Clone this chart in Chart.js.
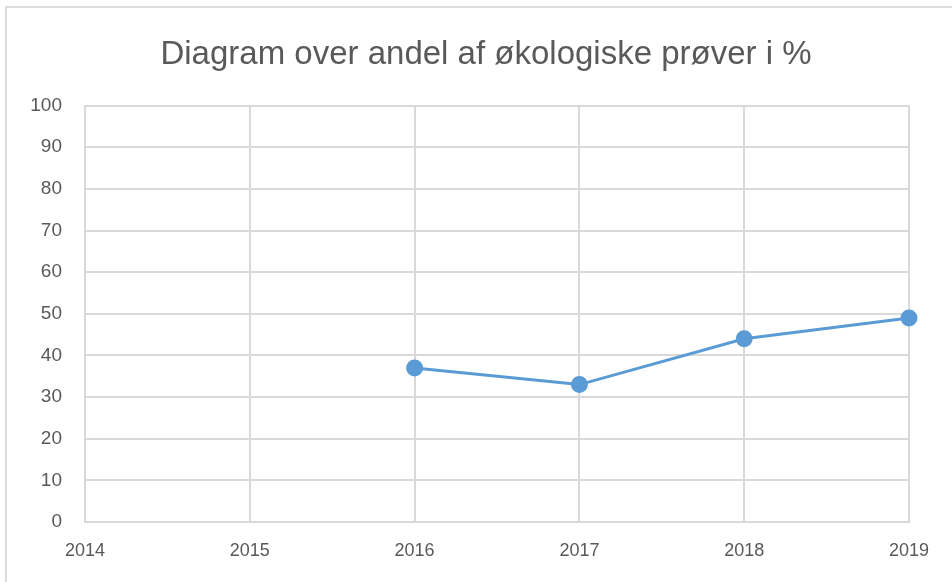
<!DOCTYPE html>
<html lang="da">
<head>
    <meta charset="UTF-8">
    <title>Diagram over andel af økologiske prøver i %</title>
    <script src="https://cdn.jsdelivr.net/npm/chart.js"></script>
    <style>
        body { margin: 0; background: #fff; font-family: 'Liberation Sans', sans-serif; }
        .wrap { position: relative; width: 952px; height: 582px; }
        .frame { position: absolute; left: 5px; top: 6px; right: -10px; bottom: -10px; border-left: 2px solid #dcdcdc; border-top: 2px solid #dcdcdc; }
        canvas { position: absolute; left: 0; top: 0; }
    </style>
</head>
<body>
    <div class="wrap">
        <div class="frame"></div>
        <canvas id="chart" width="952" height="582"></canvas>
    </div>

    <script>
        const years = ['2014', '2015', '2016', '2017', '2018', '2019'];
        const andel = [null, null, 37, 33, 44, 49];
        const yTicks = [0, 10, 20, 30, 40, 50, 60, 70, 80, 90, 100];

        const grey = '#595959';
        const gridColor = '#d9d9d9';

        new Chart(document.getElementById('chart'), {
            type: 'line',
            data: {
                labels: years,
                datasets: [{
                    label: 'Andel økologiske prøver',
                    data: andel,
                    borderColor: '#5b9bd5',
                    backgroundColor: '#5b9bd5',
                    borderWidth: 3,
                    pointRadius: 7,
                    pointHoverRadius: 7,
                    tension: 0,
                    spanGaps: false
                }]
            },
            options: {
                responsive: false,
                animation: false,
                // padding left 20 / right 0 puts the title centre at x=486 like the original
                layout: { padding: { left: 20, right: 0, top: 0, bottom: 0 } },
                plugins: {
                    legend: { display: false },
                    tooltip: { enabled: false },
                    title: {
                        display: true,
                        text: 'Diagram over andel af økologiske prøver i %',
                        color: grey,
                        font: { family: 'Liberation Sans', size: 33, weight: 'normal' },
                        padding: { top: 35, bottom: 31 }
                    }
                },
                scales: {
                    x: {
                        offset: false,
                        grid: { color: gridColor, lineWidth: 2, drawTicks: false },
                        border: { color: gridColor, width: 2 },
                        ticks: { color: grey, padding: 18, maxRotation: 0, font: { family: 'Liberation Sans', size: 18 } },
                        afterFit: (s) => { s.height = 60; }
                    },
                    y: {
                        min: 0,
                        max: 100,
                        afterBuildTicks: (s) => { s.ticks = yTicks.map(v => ({ value: v })); },
                        grid: { color: gridColor, lineWidth: 2, drawTicks: false },
                        border: { color: gridColor, width: 2 },
                        ticks: { color: grey, padding: 23, font: { family: 'Liberation Sans', size: 19 } },
                        afterFit: (s) => { s.width = 65; }
                    },
                    // empty right axis, only keeps the space right of the plot
                    yRight: {
                        position: 'right',
                        min: 0,
                        max: 100,
                        grid: { display: false, drawTicks: false },
                        border: { display: false },
                        ticks: { display: false },
                        afterFit: (s) => { s.width = 43; }
                    }
                }
            }
        });
    </script>
</body>
</html>
